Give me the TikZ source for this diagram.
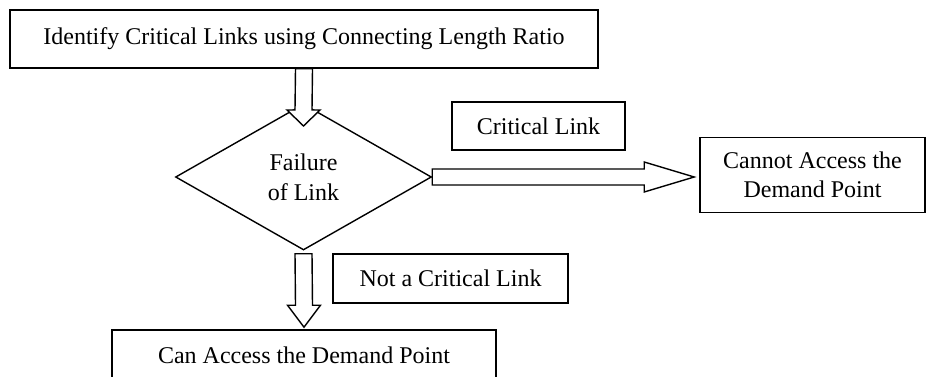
\documentclass[tikz,border=0pt]{standalone}
\usepackage{fontspec}
\setmainfont{Liberation Serif}
\usetikzlibrary{shapes.geometric,calc}
\begin{document}
\begin{tikzpicture}[x=1pt,y=-1pt,
  box/.style={draw=black,line width=1.6pt,fill=white,inner sep=0pt,align=center,
    font=\fontsize{24}{29}\selectfont},
  dia/.style={draw=black,line width=1.4pt,fill=white,diamond,inner sep=0pt,align=center,
    font=\fontsize{24}{30}\selectfont,minimum width=256pt,minimum height=146pt},
  blk/.style={draw=black,line width=1.4pt,fill=white,line join=miter}]
\useasboundingbox (0,0) rectangle (926,377);
\node[box,minimum width=588pt,minimum height=58pt] (top) at (304,39) {Identify Critical Links using Connecting Length Ratio};
\node[dia] (fail) at (303.5,177) {Failure\\of Link};
\node[box,minimum width=173pt,minimum height=48pt] (crit) at (538.5,126) {Critical Link};
\node[box,minimum width=225pt,minimum height=75pt] (cannot) at (812.5,175) {Cannot Access the\\Demand Point};
\node[box,minimum width=235pt,minimum height=49pt] (notcrit) at (450.5,278.5) {Not a Critical Link};
\node[box,minimum width=384pt,minimum height=50pt] (can) at (304,355) {Can Access the Demand Point};
% arrow 1: top -> diamond
\coordinate (a1e) at (303.5,126);
\draw[blk] ($(top.south)+(-8.5,0)$) -- ($(a1e)+(-8.5,-16)$) -- ($(a1e)+(-16.5,-16)$) -- (a1e)
  -- ($(a1e)+(16.5,-16)$) -- ($(a1e)+(8.5,-16)$) -- ($(top.south)+(8.5,0)$) -- cycle;
% arrow 2: diamond -> cannot
\coordinate (a2e) at ($(fail.east -| cannot.west)+(-5,0)$);
\draw[blk] ($(fail.east)+(0,-8)$) -- ($(a2e)+(-50,-8)$) -- ($(a2e)+(-50,-15)$) -- (a2e)
  -- ($(a2e)+(-50,15)$) -- ($(a2e)+(-50,8)$) -- ($(fail.east)+(0,8)$) -- cycle;
% arrow 3: diamond -> can
\coordinate (a3s) at ($(fail.south)+(0,3)$);
\coordinate (a3e) at ($(can.north)+(0,-2)$);
\draw[blk] ($(a3s)+(-8.5,0)$) -- ($(a3e)+(-8.5,-22)$) -- ($(a3e)+(-16.5,-22)$) -- (a3e)
  -- ($(a3e)+(16.5,-22)$) -- ($(a3e)+(8.5,-22)$) -- ($(a3s)+(8.5,0)$) -- cycle;
\end{tikzpicture}
\end{document}
